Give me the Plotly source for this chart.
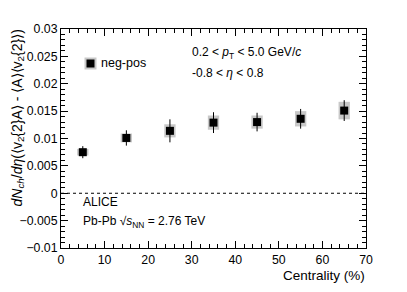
import plotly.graph_objects as go

centrality = [5, 15, 25, 35, 45, 55, 65]
values = [0.0075, 0.0101, 0.0114, 0.0129, 0.0130, 0.0136, 0.0151]
stat_err = [0.0011, 0.0014, 0.0021, 0.0019, 0.0017, 0.0018, 0.0019]
sys_err = [0.0006, 0.0008, 0.0012, 0.0013, 0.0012, 0.0014, 0.0016]
box_width = 2.6

FONT = "Liberation Sans, Arial, Helvetica, sans-serif"

# page offset (browser body margin) compensated
OFF = 8
W, H = 407 - OFF, 292 - OFF
# plot area in reference pixel coordinates
L, R, T, B = 61, 366, 29, 248

fig = go.Figure()
fig.add_trace(go.Bar(
    x=centrality,
    y=[2 * s for s in sys_err],
    base=[v - s for v, s in zip(values, sys_err)],
    width=box_width,
    marker=dict(color="#c8c8c8", line=dict(width=0)),
    showlegend=False,
    hoverinfo="skip",
))
fig.add_trace(go.Scatter(
    x=centrality, y=values, mode="markers",
    marker=dict(symbol="square", size=8, color="black"),
    error_y=dict(type="data", array=stat_err, color="black", thickness=1, width=0),
    showlegend=False,
))

fig.add_shape(type="line", xref="x", yref="y", x0=0, x1=70, y0=0, y1=0,
              line=dict(color="black", width=1, dash="dot"))


def px(xp):
    return (xp - L) / (R - L)


def py(yp):
    return (B - yp) / (B - T)


# manual legend symbol
fig.add_shape(type="rect", xref="paper", yref="paper",
              x0=px(84.5), x1=px(96.5), y0=py(69.5), y1=py(57.5),
              fillcolor="#c8c8c8", line=dict(width=0))
fig.add_shape(type="rect", xref="paper", yref="paper",
              x0=px(86.5), x1=px(94.5), y0=py(67.5), y1=py(59.5),
              fillcolor="black", line=dict(width=0))


def ann(text, x, y, xanchor="left", yanchor="middle", size=11, angle=0):
    fig.add_annotation(text=text, x=x, y=y, xref="paper", yref="paper",
                       xanchor=xanchor, yanchor=yanchor, showarrow=False,
                       textangle=angle, font=dict(family=FONT, size=size, color="black"))


ann("neg-pos", px(99), py(63), size=12.5)
ann("0.2 &lt; <i>p</i><sub>T</sub> &lt; 5.0 GeV/<i>c</i>", px(190), py(53), size=12)
ann("-0.8 &lt; <i>η</i> &lt; 0.8", px(190), py(73), size=12)
ann("ALICE", px(81), py(202), size=12)
ann("Pb-Pb √<i>s</i><sub>NN</sub> = 2.76 TeV", px(81), py(222), size=12)
ann("<i>dN</i><sub><i>ch</i></sub>/<i>dη</i>(⟨v<sub>2</sub>{2}A⟩ - ⟨A⟩⟨v<sub>2</sub>{2}⟩)",
    px(17), py(28), xanchor="center", yanchor="top", size=14, angle=-90)
ann("Centrality (%)", px(367), py(266), xanchor="right", yanchor="top", size=13.5)

axis_common = dict(
    showline=True, linecolor="black", linewidth=1, mirror="ticks",
    ticks="inside", ticklen=7, tickcolor="black", tickwidth=1,
    showgrid=False, zeroline=False,
    tickfont=dict(family=FONT, size=12.3, color="black"),
)
fig.update_xaxes(range=[0, 70], dtick=10, tick0=0,
                 minor=dict(dtick=2, ticks="inside", ticklen=4, tickcolor="black", showgrid=False),
                 **axis_common)
fig.update_yaxes(range=[-0.01, 0.03], dtick=0.005, tick0=0,
                 minor=dict(dtick=0.001, ticks="inside", ticklen=4, tickcolor="black", showgrid=False),
                 **axis_common)

fig.update_layout(
    width=W, height=H,
    margin=dict(l=L - OFF, r=407 - R, t=T - OFF, b=292 - B, autoexpand=False),
    paper_bgcolor="white", plot_bgcolor="white",
    barmode="overlay", showlegend=False,
    font=dict(family=FONT),
)

fig.write_html("out.html")
